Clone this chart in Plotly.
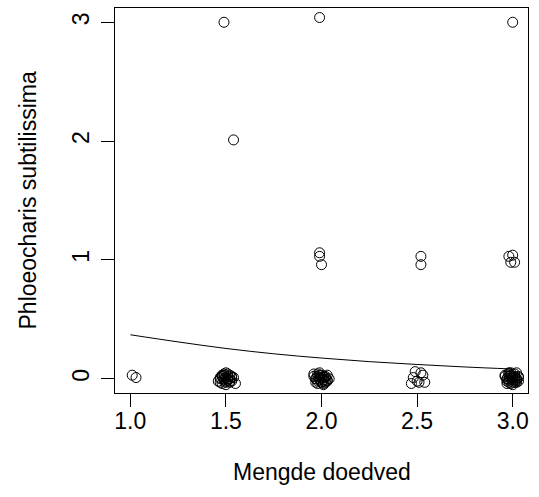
import plotly.graph_objects as go

# jittered observations (Mengde doedved vs Phloeocharis subtilissima)
pts_x = [1.01, 1.03,
         1.49, 1.54,
         1.47, 1.48, 1.49, 1.50, 1.51, 1.52, 1.53, 1.48, 1.50, 1.52, 1.54, 1.47, 1.49, 1.51, 1.53, 1.50, 1.48, 1.52, 1.46, 1.55,
         1.49, 1.50, 1.51, 1.48, 1.52, 1.50, 1.49, 1.51, 1.47, 1.53,
         1.99, 1.99, 1.99, 2.00,
         1.96, 1.97, 1.98, 1.99, 2.00, 2.01, 2.02, 2.03, 1.97, 1.99, 2.01, 2.03, 1.98, 2.00, 2.02, 1.96, 2.04, 1.99, 2.01, 1.98, 2.02,
         1.99, 2.00, 2.01, 1.98, 2.02, 2.00, 1.99, 2.01, 1.97, 2.03,
         2.52, 2.52,
         2.47, 2.49, 2.51, 2.53, 2.48, 2.50, 2.52, 2.54,
         3.00, 2.98, 3.00, 2.99, 3.01,
         2.96, 2.97, 2.98, 2.99, 3.00, 3.01, 3.02, 3.03, 2.97, 2.98, 3.00, 3.02, 3.03, 2.96, 2.99, 3.01, 3.02, 2.98, 3.00, 3.03, 2.97, 3.01, 2.99,
         2.99, 3.00, 3.01, 2.98, 3.02, 3.00, 2.99, 3.01, 2.97, 3.02, 3.00, 2.98]
pts_y = [0.03, 0.01,
         3.00, 2.01,
         -0.03, 0.02, 0.04, -0.05, 0.00, 0.03, -0.02, -0.04, 0.05, -0.03, 0.01, 0.01, -0.01, 0.04, 0.02, -0.02, 0.03, 0.00, -0.02, -0.04,
         0.00, 0.01, -0.01, 0.02, -0.02, -0.03, 0.03, 0.02, 0.00, 0.01,
         3.04, 1.06, 1.03, 0.96,
         0.02, -0.03, 0.04, -0.01, 0.03, -0.04, 0.01, -0.02, 0.00, 0.05, -0.05, 0.03, -0.02, -0.03, 0.02, 0.04, 0.00, 0.01, 0.02, -0.04, -0.03,
         0.00, 0.01, -0.01, 0.02, -0.02, -0.03, 0.03, 0.01, 0.00, -0.01,
         1.03, 0.96,
         -0.04, 0.06, -0.03, 0.03, 0.01, -0.02, 0.05, -0.03,
         3.00, 1.03, 1.04, 0.98, 0.98,
         0.03, -0.02, 0.05, -0.04, 0.01, 0.04, -0.03, 0.02, 0.00, -0.01, -0.05, 0.05, -0.02, 0.02, 0.03, -0.03, 0.00, 0.04, -0.01, 0.01, -0.04, 0.02, 0.05,
         0.00, 0.01, -0.01, 0.02, -0.02, -0.03, 0.03, 0.01, 0.00, -0.01, 0.02, -0.03]

# fitted curve
curve_x = [1.0, 1.25, 1.5, 1.75, 2.0, 2.25, 2.5, 2.75, 3.0]
curve_y = [0.37, 0.31, 0.255, 0.21, 0.174, 0.144, 0.12, 0.099, 0.082]

x_ticks = [1.0, 1.5, 2.0, 2.5, 3.0]
x_tick_labels = ["1.0", "1.5", "2.0", "2.5", "3.0"]
y_ticks = [0, 1, 2, 3]
y_tick_labels = ["0", "1", "2", "3"]

FONT = "Liberation Sans, Arial, Helvetica, sans-serif"
FS = 23

fig = go.Figure()
fig.add_trace(go.Scatter(x=curve_x, y=curve_y, mode="lines",
                         line=dict(color="black", width=1, shape="spline"),
                         hoverinfo="skip", showlegend=False))
fig.add_trace(go.Scatter(x=pts_x, y=pts_y, mode="markers",
                         marker=dict(symbol="circle-open", size=10,
                                     color="black", line=dict(width=1, color="black")),
                         showlegend=False))

fig.update_layout(
    width=539, height=497,
    margin=dict(l=115, r=11, t=8, b=104),
    plot_bgcolor="white", paper_bgcolor="white",
    font=dict(family=FONT, size=FS, color="black"),
)
fig.update_xaxes(range=[0.92, 3.08], tickvals=x_ticks, ticktext=x_tick_labels,
                 showgrid=False, zeroline=False, showline=True, mirror=True,
                 linecolor="black", linewidth=1, ticks="outside", ticklen=13,
                 tickcolor="black", tickfont=dict(size=FS), ticklabelstandoff=-6)
fig.update_yaxes(range=[-0.12, 3.12], tickvals=y_ticks, ticktext=y_tick_labels,
                 showgrid=False, zeroline=False, showline=True, mirror=True,
                 linecolor="black", linewidth=1, ticks="outside", ticklen=13,
                 tickcolor="black", tickangle=-90, tickfont=dict(size=FS),
                 ticklabelstandoff=3)

fig.add_annotation(text="Mengde doedved", xref="paper", yref="paper",
                   x=0.5, y=-(472 - 393) / 385, xanchor="center", yanchor="middle",
                   showarrow=False, font=dict(size=FS))
fig.add_annotation(text="Phloeocharis subtilissima", xref="paper", yref="paper",
                   x=-(115 - 27) / 413, y=0.5, xanchor="center", yanchor="middle",
                   textangle=-90, showarrow=False, font=dict(size=FS))

fig.write_html("out.html")
